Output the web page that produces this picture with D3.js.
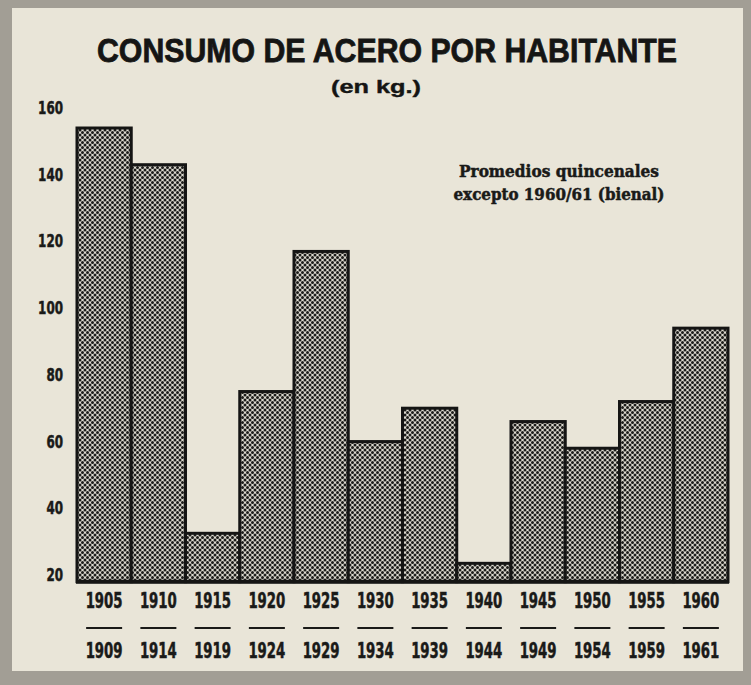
<!DOCTYPE html>
<html><head><meta charset="utf-8">
<script src="https://cdn.jsdelivr.net/npm/d3@7"></script>
<style>body{margin:0;background:#a19d94}</style>
</head><body><script>
// ---- data ----
const periodStart = ["1905","1910","1915","1920","1925","1930","1935","1940","1945","1950","1955","1960"];
const periodEnd   = ["1909","1914","1919","1924","1929","1934","1939","1944","1949","1954","1959","1961"];
const consumo     = [154, 143, 32.5, 75, 117, 60, 70, 23.5, 66, 58, 72, 94];
const yTicks      = [20, 40, 60, 80, 100, 120, 140, 160];
const titleText   = "CONSUMO DE ACERO POR HABITANTE";
const subtitleText = "(en kg.)";
const noteLines   = ["Promedios quincenales", "excepto 1960/61 (bienal)"];

// ---- layout ----
const W = 751, H = 685;
const svg = d3.select("body").append("svg").attr("width", W).attr("height", H);

svg.append("rect").attr("width", W).attr("height", H).attr("fill", "#a29e95");
svg.append("rect").attr("x", 12).attr("y", 8).attr("width", 731).attr("height", 663).attr("fill", "#e9e5d8");

const defs = svg.append("defs");
const pat = defs.append("pattern").attr("id", "dots")
  .attr("patternUnits", "userSpaceOnUse").attr("width", 5).attr("height", 5);
pat.append("rect").attr("width", 5).attr("height", 5).attr("fill", "#dcd9cf");
[[0,0],[5,0],[0,5],[5,5],[2.5,2.5]].forEach(([cx, cy]) =>
  pat.append("circle").attr("cx", cx).attr("cy", cy).attr("r", 1.5).attr("fill", "#1c1c1a"));

const x = d3.scaleBand().domain(periodStart).range([77, 728]).padding(0);
const y = d3.scaleLinear().domain([20, 160]).range([575, 108]);
const baseValue = 18;

const narrow = "'Liberation Sans Narrow', 'DejaVu Sans Condensed', sans-serif";

// bars
svg.append("g").selectAll("rect").data(consumo).join("rect")
  .attr("x", (d, i) => x(periodStart[i]))
  .attr("y", d => y(d))
  .attr("width", x.bandwidth())
  .attr("height", d => y(baseValue) - y(d))
  .attr("fill", "url(#dots)")
  .attr("stroke", "#151514")
  .attr("stroke-width", 3)
  .attr("stroke-linejoin", "miter");

// baseline
svg.append("line")
  .attr("x1", x.range()[0] - 1).attr("x2", x.range()[1] + 1)
  .attr("y1", y(baseValue)).attr("y2", y(baseValue))
  .attr("stroke", "#151514").attr("stroke-width", 4);

// y axis
const yAxis = svg.append("g").attr("transform", "translate(63,0)")
  .call(d3.axisLeft(y).tickValues(yTicks).tickSize(0).tickPadding(0).tickFormat(d3.format("d")));
yAxis.select(".domain").remove();
yAxis.selectAll("text")
  .attr("font-family", narrow).attr("font-weight", "bold")
  .attr("font-size", 17).attr("fill", "#1a1a18")
  .attr("stroke", "#1a1a18").attr("stroke-width", 0.5)
  .attr("textLength", d => String(d).length * 8.3).attr("lengthAdjust", "spacingAndGlyphs");

// x labels
const xl = svg.append("g").selectAll("g").data(periodStart).join("g")
  .attr("transform", d => `translate(${x(d) + x.bandwidth() / 2},0)`);
xl.append("text").text(d => d)
  .attr("y", 608).attr("text-anchor", "middle")
  .attr("font-family", narrow).attr("font-weight", "bold").attr("font-size", 21).attr("fill", "#1a1a18")
  .attr("stroke", "#1a1a18").attr("stroke-width", 0.5)
  .attr("textLength", 37).attr("lengthAdjust", "spacingAndGlyphs");
xl.append("line").attr("x1", -18).attr("x2", 18).attr("y1", 628).attr("y2", 628)
  .attr("stroke", "#1a1a18").attr("stroke-width", 2);
xl.append("text").text((d, i) => periodEnd[i])
  .attr("y", 658).attr("text-anchor", "middle")
  .attr("font-family", narrow).attr("font-weight", "bold").attr("font-size", 21).attr("fill", "#1a1a18")
  .attr("stroke", "#1a1a18").attr("stroke-width", 0.5)
  .attr("textLength", 37).attr("lengthAdjust", "spacingAndGlyphs");

// title
svg.append("text").text(titleText)
  .attr("x", 387).attr("y", 62).attr("text-anchor", "middle")
  .attr("font-family", "'Liberation Sans', 'DejaVu Sans', sans-serif").attr("font-weight", "bold")
  .attr("font-size", 33).attr("textLength", 580).attr("lengthAdjust", "spacingAndGlyphs")
  .attr("stroke", "#151514").attr("stroke-width", 0.8)
  .attr("fill", "#151514");
svg.append("text").text(subtitleText)
  .attr("x", 376).attr("y", 93).attr("text-anchor", "middle")
  .attr("font-family", "'Liberation Sans', 'DejaVu Sans', sans-serif").attr("font-weight", "bold")
  .attr("font-size", 19).attr("textLength", 90).attr("lengthAdjust", "spacingAndGlyphs")
  .attr("stroke", "#151514").attr("stroke-width", 0.4)
  .attr("fill", "#151514");

// note
svg.append("g").selectAll("text").data(noteLines).join("text")
  .text(d => d)
  .attr("x", 559).attr("y", (d, i) => 177 + i * 23).attr("text-anchor", "middle")
  .attr("font-family", "'DejaVu Serif', serif").attr("font-weight", "bold")
  .attr("font-size", 16)
  .attr("textLength", (d, i) => i === 0 ? 200 : 211).attr("lengthAdjust", "spacingAndGlyphs")
  .attr("stroke", "#1a1a18").attr("stroke-width", 0.5)
  .attr("fill", "#1a1a18");
</script></body></html>
